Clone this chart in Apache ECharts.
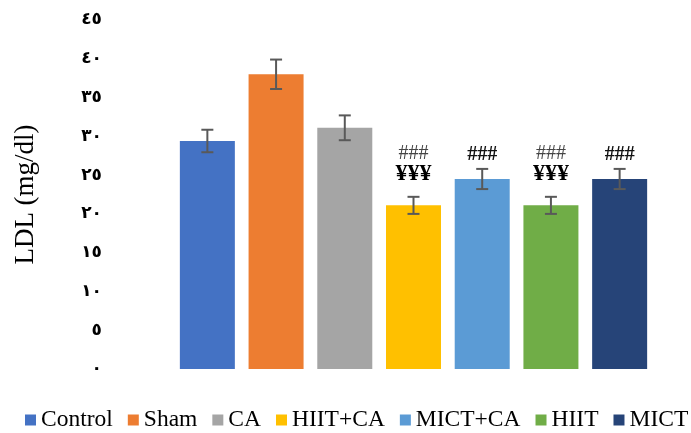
<!DOCTYPE html>
<html>
<head>
<meta charset="utf-8">
<script src="https://cdn.jsdelivr.net/npm/echarts@6/dist/echarts.min.js"></script>
<style>html,body{margin:0;padding:0;background:#fff;}#c{width:691px;height:433px;}</style>
</head>
<body>
<div id="c"></div>
<script>
var categories = ['Control', 'Sham', 'CA', 'HIIT+CA', 'MICT+CA', 'HIIT', 'MICT'];
var values = [29.4, 38.0, 31.1, 21.1, 24.5, 21.1, 24.5];
var errors = [1.45, 1.9, 1.6, 1.1, 1.3, 1.1, 1.3];
var sigHash = ['', '', '', '###', '###', '###', '###'];
var sigYen = ['', '', '', '¥¥¥', '', '¥¥¥', ''];
var colors = ['#4472C4', '#ED7D31', '#A5A5A5', '#FFC000', '#5B9BD5', '#70AD47', '#264478'];
var yTickLabels = ['٠', '٥', '١٠', '١٥', '٢٠', '٢٥', '٣٠', '٣٥', '٤٠', '٤٥'];

var series = categories.map(function (name, i) {
  var d = categories.map(function (_, j) { return j === i ? values[i] : null; });
  return {
    name: name, type: 'bar', data: d, barWidth: 55, barGap: '-100%',
    itemStyle: { color: colors[i] }, silent: true
  };
});

series.push({
  type: 'custom', name: 'err', silent: true, z: 10,
  data: categories.map(function (c, i) { return [i, values[i] - errors[i], values[i] + errors[i], i]; }),
  encode: { x: 0, y: [1, 2] },
  renderItem: function (params, api) {
    var i = api.value(3);
    var lo = api.coord([i, api.value(1)]);
    var hi = api.coord([i, api.value(2)]);
    var x = hi[0], hw = 6;
    var st = { stroke: '#595959', lineWidth: 2 };
    var children = [
      { type: 'line', shape: { x1: x, y1: hi[1], x2: x, y2: lo[1] }, style: st },
      { type: 'line', shape: { x1: x - hw, y1: hi[1], x2: x + hw, y2: hi[1] }, style: st },
      { type: 'line', shape: { x1: x - hw, y1: lo[1], x2: x + hw, y2: lo[1] }, style: st }
    ];
    var hasYen = sigYen[i] !== '';
    if (hasYen) {
      children.push({ type: 'text', style: { text: sigYen[i], x: x, y: hi[1] - 23, align: 'center', verticalAlign: 'middle',
        font: 'bold 24px "Liberation Serif"', fill: '#000' } });
    }
    if (sigHash[i] !== '') {
      children.push({ type: 'text', style: { text: sigHash[i], x: x, y: hi[1] - (hasYen ? 43 : 14), align: 'center', verticalAlign: 'middle',
        font: (hasYen ? '' : 'bold ') + '20px "Liberation Serif"', fill: hasYen ? '#444' : '#111' } });
    }
    return { type: 'group', children: children };
  }
});

var chart = echarts.init(document.getElementById('c'));
chart.setOption({
  animation: false,
  grid: { left: 173, right: 37, top: 20, bottom: 64 },
  legend: {
    data: categories, left: 25, top: 408, padding: 0, width: 760,
    itemWidth: 11, itemHeight: 11, itemGap: 15,
    icon: 'rect',
    textStyle: { fontFamily: 'Liberation Serif', fontSize: 23.5, color: '#000' }
  },
  xAxis: {
    type: 'category', data: categories,
    axisLine: { show: false }, axisTick: { show: false }, axisLabel: { show: false }
  },
  yAxis: {
    type: 'value', min: 0, max: 45, interval: 5,
    name: 'LDL (mg/dl)', nameLocation: 'middle', nameGap: 134, nameMoveOverlap: false,
    nameTextStyle: { fontFamily: 'Liberation Serif', fontSize: 27, color: '#000' },
    axisLine: { show: false }, axisTick: { show: false }, splitLine: { show: false },
    axisLabel: {
      margin: 71, align: 'right',
      fontFamily: 'DejaVu Sans', fontWeight: 'bold', fontSize: 17, color: '#000',
      formatter: function (v) { return yTickLabels[Math.round(v / 5)]; }
    }
  },
  series: series
});
</script>
</body>
</html>
